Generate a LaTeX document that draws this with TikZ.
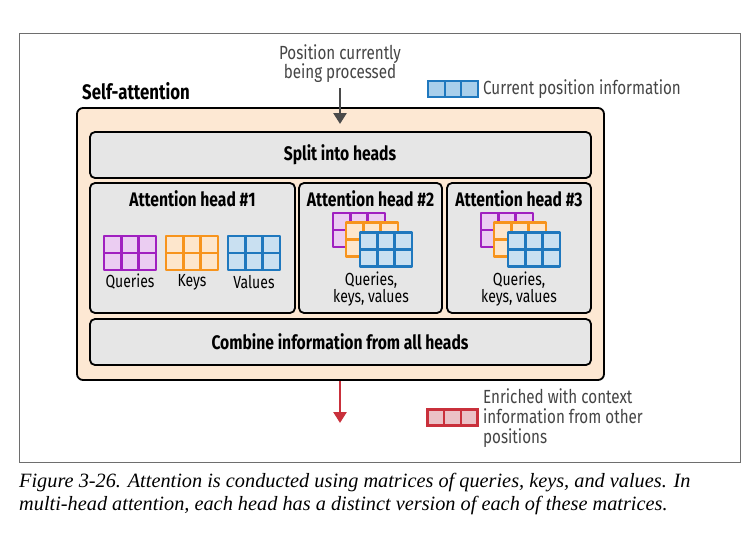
\documentclass[tikz,border=0pt]{standalone}
\usepackage{fontspec}
\setmainfont{Fira Sans}[FakeStretch=0.8]
\newfontfamily\capfont{Liberation Serif}
\usetikzlibrary{arrows.meta}
\definecolor{framegray}{HTML}{6E6E6E}
\definecolor{peach}{HTML}{FDE8D3}
\definecolor{boxgray}{HTML}{E6E6E6}
\definecolor{txtgray}{HTML}{454545}
\definecolor{arrgray}{HTML}{4A4A4A}
\definecolor{qstroke}{HTML}{A020C0}
\definecolor{qfill}{HTML}{EBCDF2}
\definecolor{kstroke}{HTML}{F7941D}
\definecolor{kfill}{HTML}{FDE6CC}
\definecolor{vstroke}{HTML}{1F78BE}
\definecolor{vfill}{HTML}{C9E0F1}
\definecolor{vlegfill}{HTML}{A9CFEB}
\definecolor{rstroke}{HTML}{C9303B}
\definecolor{rfill}{HTML}{EBC1C6}
\newcommand\mgrid[4]{%
  \fill[#4] (#1,#2) rectangle ++(52,34);
  \draw[#3, line width=2.8pt, line join=round] (#1,#2) rectangle ++(52,34)
    (#1+17.33,#2) -- ++(0,34) (#1+34.67,#2) -- ++(0,34) (#1,#2+17) -- ++(52,0);}
\newcommand\lgrid[4]{%
  \fill[#4] (#1,#2) rectangle ++(50,16);
  \draw[#3, line width=2.2pt] (#1,#2) rectangle ++(50,16)
    (#1+16.67,#2) -- ++(0,16) (#1+33.33,#2) -- ++(0,16);}
\begin{document}
\begin{tikzpicture}[x=1pt,y=-1pt,
  outerbox/.style={draw=black, line width=1.8pt, fill=peach, rounded corners=6pt, inner sep=0pt, outer sep=0pt, anchor=north west},
  graybox/.style={draw=black, line width=1.8pt, fill=boxgray, rounded corners=5pt, inner sep=0pt, outer sep=0pt, anchor=north west},
  boldlabel/.style={font=\fontsize{19.6}{22}\selectfont\bfseries, text=black, inner sep=0pt},
  smalllabel/.style={font=\fontsize{17.5}{17}\selectfont, text=black, inner sep=0pt, align=center},
  notelabel/.style={font=\fontsize{19}{20}\selectfont, text=txtgray, inner sep=0pt},
  grayarrow/.style={draw=arrgray, line width=2.6pt, -{Triangle[width=13pt,length=11pt]}},
  redarrow/.style={draw=rstroke, line width=2.6pt, -{Triangle[width=13pt,length=11pt]}}
]
\useasboundingbox (0,0) rectangle (751,533);
\fill[white] (0,0) rectangle (751,533);
\draw[framegray, line width=1pt] (19,33) rectangle (740,462);

% outer self-attention box
\node[outerbox, minimum width=527pt, minimum height=272pt] (sa) at (77,108) {};
\node[font=\fontsize{21}{22}\selectfont\bfseries, inner sep=0pt, anchor=west] (satitle) at (82,91) {Self-attention};

% inner boxes
\node[graybox, minimum width=501pt, minimum height=46pt] (split) at (90,132) {};
\node[boldlabel] (splitt) at (340,155) {Split into heads};
\node[graybox, minimum width=205pt, minimum height=130pt] (h1) at (90,183) {};
\node[graybox, minimum width=143pt, minimum height=130pt] (h2) at (299,183) {};
\node[graybox, minimum width=144pt, minimum height=130pt] (h3) at (447,183) {};
\node[graybox, minimum width=501pt, minimum height=46pt] (comb) at (90,319) {};
\node[boldlabel] (combt) at (340,342) {Combine information from all heads};

\node[boldlabel] (h1t) at (192.5,199) {Attention head \#1};
\node[boldlabel] (h2t) at (370.5,199) {Attention head \#2};
\node[boldlabel] (h3t) at (519,199) {Attention head \#3};

% head 1 matrices
\mgrid{104}{236}{qstroke}{qfill}
\mgrid{166}{236}{kstroke}{kfill}
\mgrid{228}{236}{vstroke}{vfill}
\node[smalllabel] (lq) at (130,282) {Queries};
\node[smalllabel] (lk) at (192,282) {Keys};
\node[smalllabel] (lv) at (254,282) {Values};

% head 2 matrices
\mgrid{333}{213}{qstroke}{qfill}
\mgrid{346}{222.5}{kstroke}{kfill}
\mgrid{360}{232.5}{vstroke}{vfill}
\node[smalllabel] (l2) at (371,289.5) {Queries,\\keys, values};

% head 3 matrices
\mgrid{481}{213}{qstroke}{qfill}
\mgrid{494}{222.5}{kstroke}{kfill}
\mgrid{508}{232.5}{vstroke}{vfill}
\node[smalllabel] (l3) at (519,289.5) {Queries,\\keys, values};

% top annotation and arrow
\node[notelabel, align=center, font=\fontsize{19}{19}\selectfont] (pos) at (340,64) {Position currently\\being processed};
\coordinate (inStart) at (340,88);
\coordinate (inEnd) at (340,124);
\draw[grayarrow] (inStart) -- (inEnd);

% legend top
\lgrid{428}{81}{vstroke}{vlegfill}
\node[notelabel, anchor=west] (leg1) at (483,89.5) {Current position information};

% bottom arrow
\coordinate (outStart) at (340,381);
\coordinate (outEnd) at (340,423);
\draw[redarrow] (outStart) -- (outEnd);

% legend bottom
\lgrid{427.5}{409.5}{rstroke}{rfill}
\node[notelabel, anchor=north west, align=left, font=\fontsize{19}{20}\selectfont] (leg2) at (483,388) {Enriched with context\\information from other\\positions};

% caption
\node[anchor=west, inner sep=0pt, font=\capfont\itshape\fontsize{20.3}{23}\selectfont] (cap1) at (19,483) {Figure 3-26. Attention is conducted using matrices of queries, keys, and values. In};
\node[anchor=west, inner sep=0pt, font=\capfont\itshape\fontsize{20.3}{23}\selectfont] (cap2) at (19,506) {multi-head attention, each head has a distinct version of each of these matrices.};
\end{tikzpicture}
\end{document}
